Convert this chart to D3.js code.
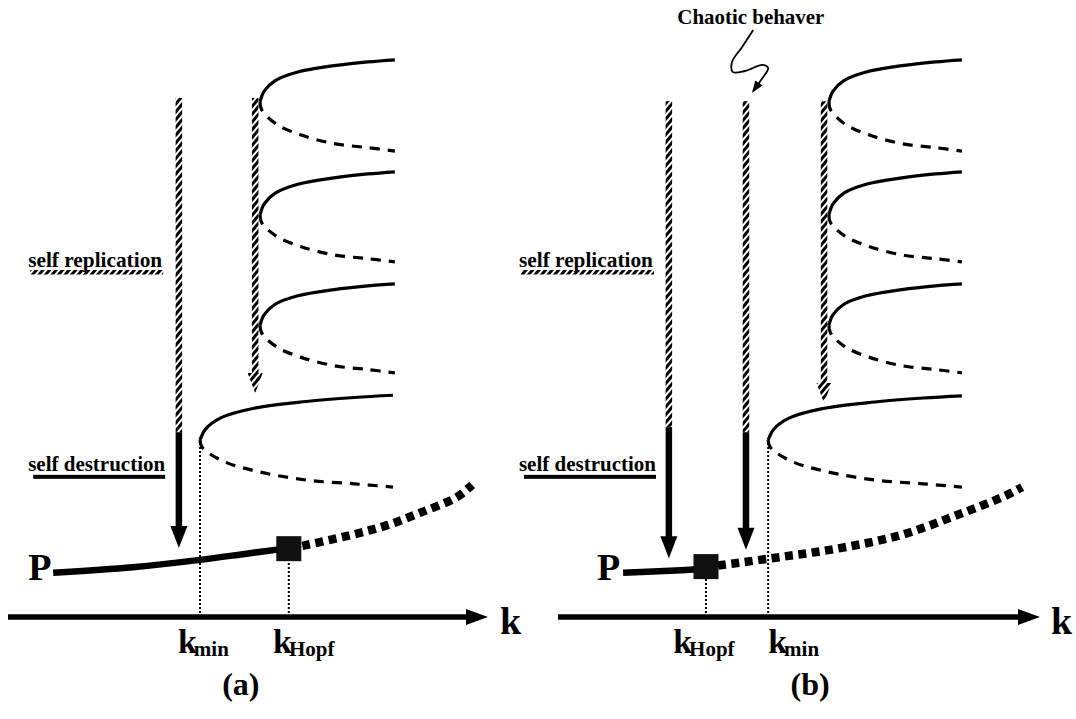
<!DOCTYPE html>
<html lang="en">
<head>
<meta charset="UTF-8">
<title>Self replication and self destruction</title>
<script src="https://d3js.org/d3.v7.min.js"></script>
<style>
  body { margin: 0; background: #fff; }
  svg text { font-family: "Liberation Serif", "DejaVu Serif", "Times New Roman", serif; font-weight: bold; }
</style>
</head>
<body>
<svg id="chart" width="1076" height="719"></svg>
<script>
// Shape of one fold branch:
// [fraction of the k span, fraction of the branch height]
const upperProfile = [[0, 0], [0.03, 0.25], [0.11, 0.5], [0.28, 0.71], [0.55, 0.86], [0.8, 0.95], [1, 1]];
const lowerProfile = [[0, 0], [0.012, 0.16], [0.12, 0.45], [0.3, 0.67], [0.55, 0.85], [0.8, 0.93], [1, 1]];

// ---- panel (a) ----
// folds: [nose k, nose y, end k, upper end y, lower end y]
const foldsA = [
  [52.5, 92.0, 80.6, 99.5, 83.2],
  [52.5, 71.8, 80.6, 79.5, 63.4],
  [52.5, 52.1, 80.6, 59.5, 43.6],
  [40.0, 31.6, 80.2, 39.6, 23.2]
];
const stableA = [[9.4, 7.9], [26, 8.9], [40, 10.2], [50.4, 11.4], [58.5, 12.3]];
const unstableA = [[61.3, 12.7], [71.3, 14.6], [79, 16.4], [85.8, 18.6], [93.5, 21.4], [96.7, 23.6]];
const hopfA = [58.5, 12.2];
// critical values: [subscript, k, top of dotted line]
const criticalA = [["min", 40.0, 31.6], ["Hopf", 58.5, 12.2]];
// arrows: [k, top, start of solid part (null = all hatched), tip]
const arrowsA = [[35.6, 92.7, 33.0, 12.3], [51.5, 92.7, null, 40.0]];

// ---- panel (b) ----
const foldsB = [
  [56.2, 92.0, 83.8, 99.5, 83.2],
  [56.2, 71.8, 83.8, 79.5, 63.4],
  [56.2, 52.1, 83.8, 59.5, 43.6],
  [43.6, 31.6, 83.8, 39.5, 23.2]
];
const stableB = [[13.5, 7.9], [22, 8.2], [30.7, 8.6]];
const unstableB = [[33.2, 9.2], [46.1, 10.7], [58.5, 12.3], [71.0, 14.6], [82.8, 18.2], [93.2, 21.8], [96.3, 23.2]];
const hopfB = [30.7, 9.0];
const criticalB = [["Hopf", 30.7, 9.0], ["min", 43.6, 31.6]];
const arrowsB = [[23.0, 92.1, 33.9, 10.5], [39.0, 92.1, 33.0, 12.0], [55.2, 92.1, null, 38.2]];
const squiggleB = [[40.5, 104.8], [38.2, 101.8], [36.1, 99.1], [36.3, 97.3], [38.8, 97.5], [42.5, 98.6], [43.6, 98.0], [42.3, 96.1], [40.5, 93.9]];

const svg = d3.select("#chart");

// diagonal hatching used for the "self replication" arrows
svg.append("defs").append("pattern")
    .attr("id", "hatch")
    .attr("patternUnits", "userSpaceOnUse")
    .attr("width", 5)
    .attr("height", 5)
    .attr("patternTransform", "rotate(40)")
  .append("rect")
    .attr("width", 3)
    .attr("height", 5)
    .attr("fill", "#000");

const y = d3.scaleLinear().domain([0, 100]).range([617, 57]);

const panels = [
  {
    x: d3.scaleLinear().domain([0, 100]).range([8, 488]),
    folds: foldsA, stable: stableA, unstable: unstableA, hopf: hopfA,
    critical: criticalA, arrows: arrowsA, squiggle: null,
    textK: 4.2, pK: 4.2, axisLabelK: 102.5, panelK: 48.5, name: "(a)",
    critLabelK: {min: 35.4, Hopf: 55.2}
  },
  {
    x: d3.scaleLinear().domain([0, 100]).range([558, 1040]),
    folds: foldsB, stable: stableB, unstable: unstableB, hopf: hopfB,
    critical: criticalB, arrows: arrowsB, squiggle: squiggleB,
    textK: -8.1, pK: 8.1, axisLabelK: 102.3, panelK: 52.3, name: "(b)",
    critLabelK: {min: 43.6, Hopf: 23.9}
  }
];

panels.forEach(drawPanel);

function drawPanel(p) {
    const g = svg.append("g");
    const x = p.x;
    const line = d3.line().x(d => x(d[0])).y(d => y(d[1])).curve(d3.curveCatmullRom.alpha(0.5));

    // k axis
    g.append("line")
        .attr("x1", x(0)).attr("x2", x(100) - 18)
        .attr("y1", y(0)).attr("y2", y(0))
        .attr("stroke", "#000").attr("stroke-width", 5.5);
    g.append("path")
        .attr("d", `M${x(100)},${y(0)}L${x(100) - 22},${y(0) - 8}L${x(100) - 22},${y(0) + 8}Z`)
        .attr("fill", "#000");
    g.append("text")
        .attr("x", x(p.axisLabelK)).attr("y", y(-3.0))
        .attr("font-size", 38)
        .text("k");

    // dotted lines at the critical values
    p.critical.forEach(([sub, k, top]) => {
        g.append("line")
            .attr("x1", x(k)).attr("x2", x(k))
            .attr("y1", y(0)).attr("y2", y(top))
            .attr("stroke", "#000").attr("stroke-width", 2)
            .attr("stroke-dasharray", "2,2");
        const t = g.append("text")
            .attr("x", x(p.critLabelK[sub])).attr("y", y(-6.4))
            .attr("font-size", 34);
        t.append("tspan").text("k");
        t.append("tspan").attr("font-size", 21).attr("dx", -3).attr("dy", 3).text(sub);
    });

    // folds: solid upper branch, dashed lower branch
    p.folds.forEach(([nk, ny, ek, uy, ly]) => {
        const up = upperProfile.map(([t, s]) => [nk + t * (ek - nk), ny + s * (uy - ny)]);
        const low = lowerProfile.map(([t, s]) => [nk + t * (ek - nk), ny + s * (ly - ny)]);
        g.append("path").attr("d", line(up))
            .attr("fill", "none").attr("stroke", "#000").attr("stroke-width", 3.2);
        g.append("path").attr("d", line(low))
            .attr("fill", "none").attr("stroke", "#000").attr("stroke-width", 3.2)
            .attr("stroke-dasharray", "10,8");
    });

    // P branch: stable part, Hopf point, unstable part
    g.append("path").attr("d", line(p.stable))
        .attr("fill", "none").attr("stroke", "#000").attr("stroke-width", 6.5);
    g.append("path").attr("d", line(p.unstable))
        .attr("fill", "none").attr("stroke", "#000").attr("stroke-width", 8.5)
        .attr("stroke-dasharray", "8,5.5");
    g.append("rect")
        .attr("x", x(p.hopf[0]) - 12.5).attr("y", y(p.hopf[1]) - 12.5)
        .attr("width", 25).attr("height", 25)
        .attr("fill", "#111");
    g.append("text")
        .attr("x", x(p.pK)).attr("y", y(6.6))
        .attr("font-size", 38)
        .text("P");

    // arrows
    p.arrows.forEach(a => drawArrow(g, x, a));

    // labels with underlines
    g.append("text")
        .attr("x", x(p.textK)).attr("y", y(62.5))
        .attr("font-size", 21)
        .attr("textLength", 134).attr("lengthAdjust", "spacingAndGlyphs")
        .text("self replication");
    g.append("rect")
        .attr("x", x(p.textK) + 2).attr("y", y(62.5) + 3)
        .attr("width", 133).attr("height", 4.5)
        .attr("fill", "url(#hatch)");
    g.append("text")
        .attr("x", x(p.textK)).attr("y", y(26.1))
        .attr("font-size", 21)
        .attr("textLength", 137).attr("lengthAdjust", "spacingAndGlyphs")
        .text("self destruction");
    g.append("rect")
        .attr("x", x(p.textK) + 5).attr("y", y(26.1) + 4)
        .attr("width", 132).attr("height", 4)
        .attr("fill", "#000");

    // panel name
    g.append("text")
        .attr("x", x(p.panelK)).attr("y", y(-14.0))
        .attr("text-anchor", "middle")
        .attr("font-size", 32)
        .text(p.name);

    // "Chaotic behaver" note with its wiggly pointer
    if (p.squiggle) {
        g.append("text")
            .attr("x", x(40.0)).attr("y", y(105.9))
            .attr("text-anchor", "middle")
            .attr("font-size", 21)
            .attr("textLength", 147).attr("lengthAdjust", "spacingAndGlyphs")
            .text("Chaotic behaver");
        const sq = p.squiggle;
        g.append("path").attr("d", line(sq))
            .attr("fill", "none").attr("stroke", "#000").attr("stroke-width", 1.8);
        const [x1, y1] = [x(sq[sq.length - 2][0]), y(sq[sq.length - 2][1])];
        const [x2, y2] = [x(sq[sq.length - 1][0]), y(sq[sq.length - 1][1])];
        const ang = Math.atan2(y2 - y1, x2 - x1);
        const L = 10, W = 4.5;
        const bx = x2 - L * Math.cos(ang), by = y2 - L * Math.sin(ang);
        g.append("path")
            .attr("d", `M${x2 + 2 * Math.cos(ang)},${y2 + 2 * Math.sin(ang)}L${bx - W * Math.sin(ang)},${by + W * Math.cos(ang)}L${bx + W * Math.sin(ang)},${by - W * Math.cos(ang)}Z`)
            .attr("fill", "#000");
    }
}

function drawArrow(g, x, a) {
    const [k, top, solidFrom, tip] = a;
    const cx = x(k);
    const hatchedOnly = solidFrom === null;
    const headLen = hatchedOnly ? 20 : 22;
    const headW = hatchedOnly ? 7.5 : 8.5;
    const w = 6.5;
    const headTop = y(tip) - headLen;
    const hatchEnd = hatchedOnly ? headTop : y(solidFrom);

    g.append("rect")
        .attr("x", cx - w / 2).attr("y", y(top))
        .attr("width", w).attr("height", hatchEnd - y(top))
        .attr("fill", "url(#hatch)");
    if (!hatchedOnly) {
        g.append("rect")
            .attr("x", cx - w / 2).attr("y", y(solidFrom))
            .attr("width", w).attr("height", headTop - y(solidFrom) + 1)
            .attr("fill", "#000");
    }
    g.append("path")
        .attr("d", `M${cx - headW},${headTop}L${cx + headW},${headTop}L${cx},${y(tip)}Z`)
        .attr("fill", hatchedOnly ? "url(#hatch)" : "#000");
}
</script>
</body>
</html>
